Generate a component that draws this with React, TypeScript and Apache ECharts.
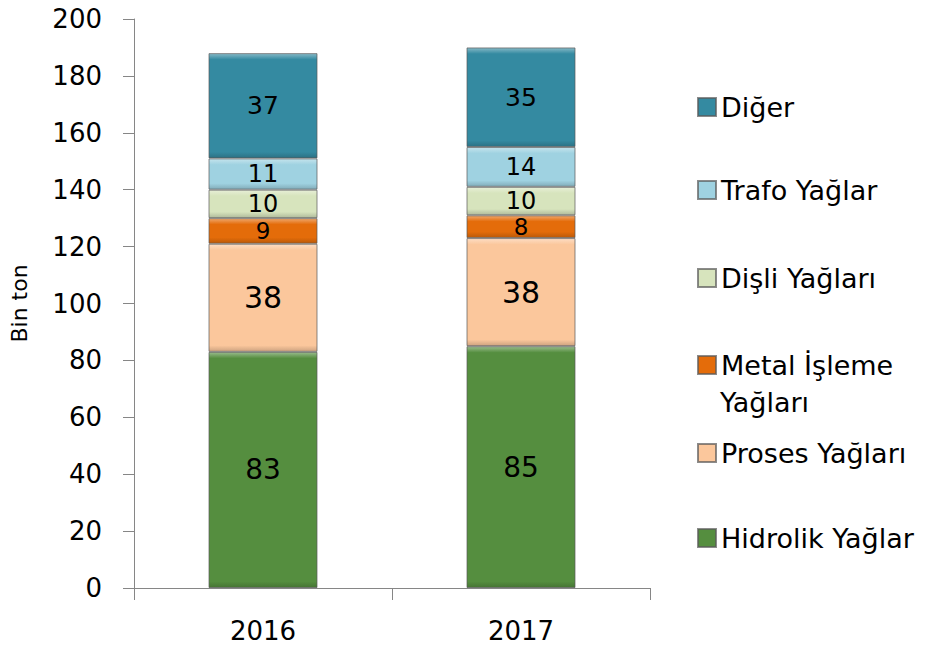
import React, { useEffect, useRef } from "react";
import * as echarts from "echarts";

const categories = ["2016", "2017"];
const seriesNames = ["Hidrolik Yağlar", "Proses Yağları", "Metal İşleme Yağları", "Dişli Yağları", "Trafo Yağlar", "Diğer"];
const hidrolik = [83, 85];
const proses = [38, 38];
const metal = [9, 8];
const disli = [10, 10];
const trafo = [11, 14];
const diger = [37, 35];
const yTicks = [0, 20, 40, 60, 80, 100, 120, 140, 160, 180, 200];

const colors = ["#558E3F", "#FBC79C", "#E46C0A", "#D7E4BD", "#9FD2E1", "#348AA1"];
const labelSizes = [28, 30, 23, 24, 24, 25];
const legendCenters = [538, 453, 365, 278, 190, 107];
const FONT = "DejaVu Sans";
const PX_PER_UNIT = (588 - 19) / 200;

function shade(hex: string, f: number) {
  const n = parseInt(hex.slice(1), 16);
  let r = (n >> 16) & 255, g = (n >> 8) & 255, b = n & 255;
  const t = f < 0 ? 0 : 255;
  const p = Math.abs(f);
  r = Math.round((t - r) * p + r);
  g = Math.round((t - g) * p + g);
  b = Math.round((t - b) * p + b);
  return `rgb(${r},${g},${b})`;
}

function bevel(c: string, v: number) {
  const h = Math.max(1, v * PX_PER_UNIT);
  const e = Math.min(0.3, 6 / h);
  return {
    type: "linear", x: 0, y: 0, x2: 0, y2: 1,
    colorStops: [
      { offset: 0, color: shade(c, 0.4) },
      { offset: e, color: c },
      { offset: 1 - e, color: c },
      { offset: 1, color: shade(c, -0.18) },
    ],
  };
}

export default function App() {
  const ref = useRef<HTMLDivElement>(null);
  useEffect(() => {
    const chart = echarts.init(ref.current!, null, { renderer: "svg" });
    const values = [hidrolik, proses, metal, disli, trafo, diger];
    const series = seriesNames.map((name, i) => ({
      name,
      type: "bar",
      stack: "total",
      barWidth: 109,
      data: values[i].map((v) => ({ value: v, itemStyle: { color: bevel(colors[i], v) } })),
      itemStyle: {
        color: colors[i],
        borderColor: "rgba(90,90,90,0.7)",
        borderWidth: 1,
      },
      label: {
        show: true,
        position: "inside",
        color: "#000",
        fontFamily: FONT,
        fontSize: labelSizes[i],
      },
    }));
    const legends = seriesNames.map((name, i) => ({
      data: [{ name, icon: "rect" }],
      left: 697,
      top: legendCenters[i] - 15,
      padding: 0,
      orient: "vertical",
      itemWidth: 18,
      itemHeight: 18,
      formatter: (n: string) => (n === "Metal İşleme Yağları" ? "Metal İşleme" : n),
      textStyle: { fontFamily: FONT, fontSize: 27, color: "#000", lineHeight: 30 },
      selectedMode: false,
    }));
    chart.setOption({
      animation: false,
      backgroundColor: "#fff",
      color: colors,
      grid: { left: 132, right: 280, top: 19, bottom: 64, containLabel: false },
      legend: legends,
      graphic: [
        {
          type: "text",
          left: 720,
          top: 402 - 15,
          style: { text: "Yağları", fontFamily: FONT, fontSize: 27, fill: "#000", lineHeight: 30 },
        },
      ],
      xAxis: {
        type: "category",
        data: categories,
        axisLine: { lineStyle: { color: "#868686", width: 1 } },
        axisTick: { show: true, length: 12, lineStyle: { color: "#868686" } },
        axisLabel: { color: "#000", fontFamily: FONT, fontSize: 26, margin: 30 },
      },
      yAxis: {
        type: "value",
        min: 0,
        max: 200,
        interval: 20,
        name: "Bin ton",
        nameLocation: "middle",
        nameGap: 104,
        nameTextStyle: { color: "#000", fontFamily: FONT, fontSize: 22 },
        axisLine: { show: true, lineStyle: { color: "#868686", width: 1 } },
        axisTick: { show: true, length: 11, lineStyle: { color: "#868686" } },
        splitLine: { show: false },
        axisLabel: {
          color: "#000", fontFamily: FONT, fontSize: 26, margin: 32,
          formatter: (v: number) => (yTicks.includes(v) ? String(v) : ""),
        },
      },
      series,
    });
    return () => chart.dispose();
  }, []);
  return <div ref={ref} style={{ width: 930, height: 652, margin: -8 }} />;
}
